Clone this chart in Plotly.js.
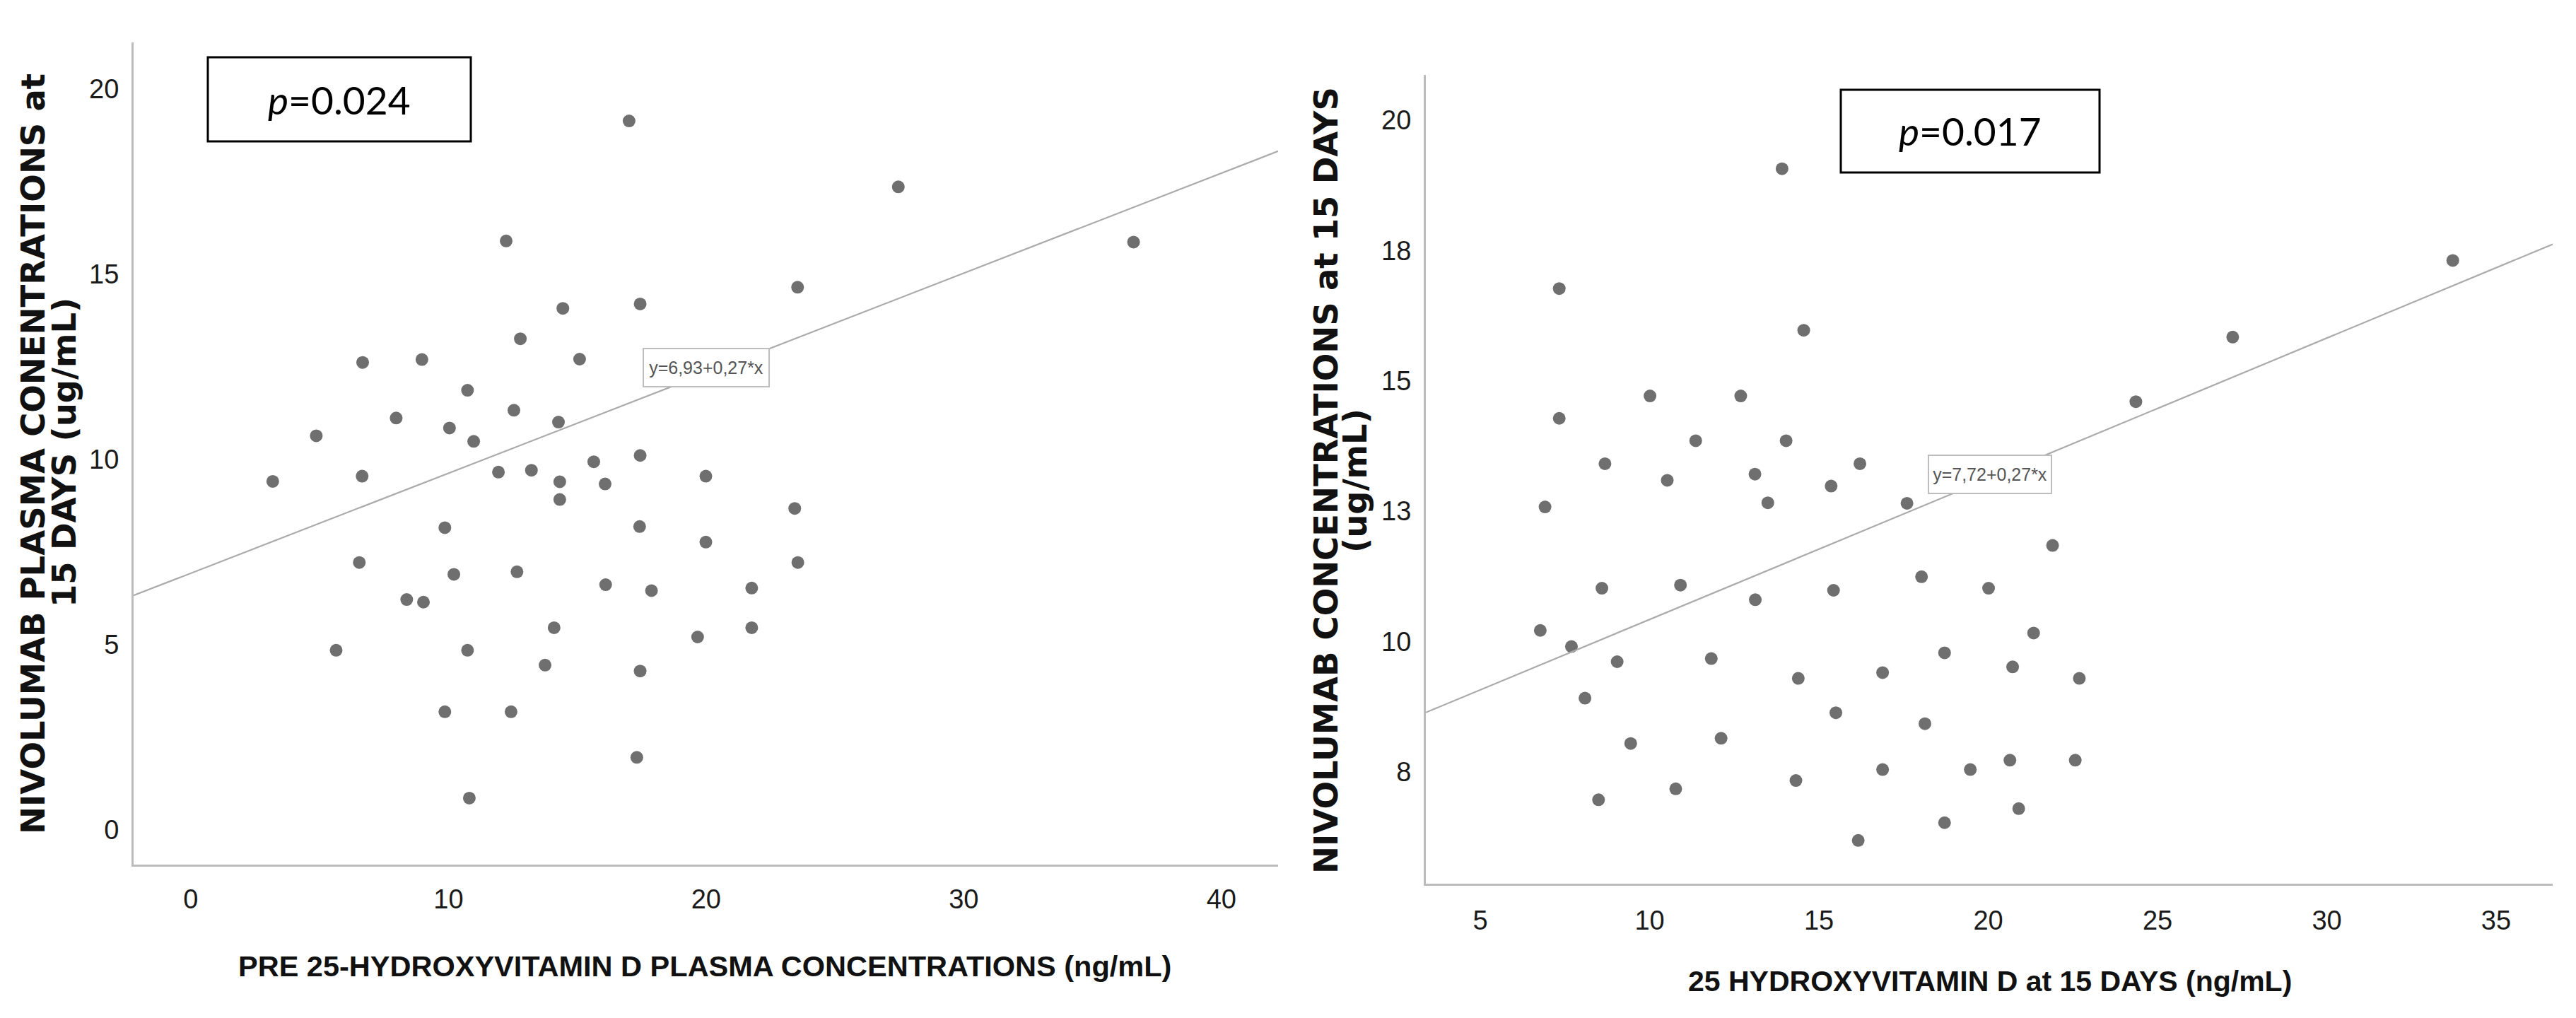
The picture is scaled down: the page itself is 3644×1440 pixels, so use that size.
<!DOCTYPE html>
<html>
<head>
<meta charset="utf-8">
<script src="https://cdn.plot.ly/plotly-3.0.1.min.js"></script>
<style>
  html, body { margin: 0; padding: 0; background: #ffffff; }
  #chart { width: 3644px; height: 1440px; }
</style>
</head>
<body>
<div id="chart"></div>
<script>
// ---------- Data: left panel (pre 25-OH vitamin D vs nivolumab at 15 days) ----------
const leftX = [3.18, 4.87, 5.64, 6.67, 6.65, 6.54, 7.97, 8.38, 8.97, 9.03, 9.86, 10.04, 9.86,
  10.21, 10.74, 10.74, 10.98, 10.81, 11.94, 12.24, 12.43, 12.54, 12.66, 12.79, 13.22, 13.75,
  14.10, 14.27, 14.32, 14.32, 14.44, 15.09, 15.64, 16.08, 16.10, 17.01, 17.44, 17.44, 17.42,
  17.44, 17.31, 17.88, 19.67, 19.99, 19.99, 21.77, 21.77, 23.44, 23.55, 23.56, 27.46, 36.59];
const leftY = [9.41, 10.64, 4.85, 12.62, 9.55, 7.22, 11.12, 6.22, 12.70, 6.15, 8.16, 10.85, 3.19,
  6.90, 11.87, 4.85, 10.49, 0.86, 9.66, 15.90, 3.19, 11.33, 6.97, 13.26, 9.71, 4.45,
  5.46, 11.01, 9.40, 8.92, 14.08, 12.71, 9.94, 9.34, 6.62, 19.14, 14.20, 10.11, 8.19,
  4.29, 1.96, 6.46, 5.21, 9.55, 7.77, 6.53, 5.46, 8.68, 14.65, 7.22, 17.36, 15.87];

// ---------- Data: right panel (25-OH vitamin D at 15 days vs nivolumab at 15 days) ----------
const rightX = [6.77, 6.91, 7.33, 7.33, 7.69, 8.09, 8.49, 8.59, 8.68, 9.04, 9.44, 10.01, 10.52,
  10.77, 10.91, 11.36, 11.82, 12.11, 12.69, 13.11, 13.12, 13.49, 13.91, 14.03, 14.32, 14.39,
  14.55, 15.36, 15.43, 15.50, 16.16, 16.21, 16.88, 16.88, 17.60, 18.03, 18.13, 18.71, 18.71,
  19.47, 20.01, 20.64, 20.72, 20.90, 21.34, 21.90, 22.57, 22.69, 24.36, 27.22, 33.72];
const rightY = [10.21, 12.58, 16.77, 14.28, 9.90, 8.91, 6.96, 11.02, 13.41, 9.61, 8.04, 14.71, 13.09,
  7.17, 11.08, 13.85, 9.67, 8.14, 14.71, 13.21, 10.80, 12.66, 19.07, 13.85, 7.33, 9.29,
  15.97, 12.98, 10.98, 8.63, 6.18, 13.41, 7.54, 9.40, 12.65, 11.24, 8.42, 9.78, 6.52,
  7.54, 11.02, 7.72, 9.51, 6.79, 10.16, 11.84, 7.72, 9.29, 14.60, 15.84, 17.31];

// ---------- Fit lines (coefficients printed on the chart) ----------
const leftFit = [6.93, 0.27];   // intercept, slope
const rightFit = [7.72, 0.27];

// ---------- Axes ----------
const leftXRange = [-2.22, 42.2];
const leftYRange = [-0.935, 21.26];
const rightXRange = [3.39, 36.67];
const rightYRange = [5.35, 20.87];
const leftXTicks = [0, 10, 20, 30, 40];
const leftYTicks = [0, 5, 10, 15, 20];
const rightXTicks = [5, 10, 15, 20, 25, 30, 35];
const rightYTickVals = [7.5, 10, 12.5, 15, 17.5, 20];
const rightYTickText = ["8", "10", "13", "15", "18", "20"];

// ---------- Texts ----------
const leftYTitle = ["NIVOLUMAB PLASMA CONENTRATIONS at", "15 DAYS (ug/mL)"];
const rightYTitle = ["NIVOLUMAB CONCENTRATIONS at 15 DAYS", "(ug/mL)"];
const leftXTitle = "PRE 25-HYDROXYVITAMIN D PLASMA CONCENTRATIONS (ng/mL)";
const rightXTitle = "25 HYDROXYVITAMIN D at 15 DAYS (ng/mL)";
const leftP = "0.024";
const rightP = "0.017";

const W = 3644, H = 1440;
const px = v => v / W;
const py = v => 1 - v / H;

const fmt = n => n.toFixed(2).replace('.', ',');
const eqText = f => 'y=' + fmt(f[0]) + '+' + fmt(f[1]) + '*x';

const dotColor = '#6f6f6f';
const lineColor = '#ababab';
const axisColor = '#bcbcbc';
const arial = '"Liberation Sans", Arial, sans-serif';
const wideBold = '"DejaVu Sans", Arial, sans-serif';

const traces = [
  { type: 'scatter', mode: 'markers', x: leftX, y: leftY, xaxis: 'x', yaxis: 'y',
    marker: { color: dotColor, size: 18 }, hoverinfo: 'x+y', showlegend: false },
  { type: 'scatter', mode: 'lines', x: leftXRange,
    y: leftXRange.map(v => leftFit[0] + leftFit[1] * v), xaxis: 'x', yaxis: 'y',
    line: { color: lineColor, width: 2.2 }, hoverinfo: 'skip', showlegend: false },
  { type: 'scatter', mode: 'markers', x: rightX, y: rightY, xaxis: 'x2', yaxis: 'y2',
    marker: { color: dotColor, size: 18 }, hoverinfo: 'x+y', showlegend: false },
  { type: 'scatter', mode: 'lines', x: rightXRange,
    y: rightXRange.map(v => rightFit[0] + rightFit[1] * v), xaxis: 'x2', yaxis: 'y2',
    line: { color: lineColor, width: 2.2 }, hoverinfo: 'skip', showlegend: false }
];

const axisBase = {
  showgrid: false, zeroline: false, showline: true, linecolor: axisColor, linewidth: 3,
  ticks: '', tickfont: { family: arial, size: 38, color: '#1a1a1a' }, fixedrange: true
};

const layout = {
  width: W, height: H,
  margin: { l: 0, r: 0, t: 0, b: 0 },
  paper_bgcolor: '#ffffff', plot_bgcolor: '#ffffff',
  showlegend: false,
  xaxis: Object.assign({}, axisBase, {
    domain: [px(189), px(1808)], range: leftXRange, anchor: 'y',
    tickmode: 'array', tickvals: leftXTicks, ticktext: leftXTicks.map(String), ticklabelstandoff: 13
  }),
  yaxis: Object.assign({}, axisBase, {
    domain: [py(1223), py(60)], range: leftYRange, anchor: 'x',
    tickmode: 'array', tickvals: leftYTicks, ticktext: leftYTicks.map(String), ticklabelstandoff: 10
  }),
  xaxis2: Object.assign({}, axisBase, {
    domain: [px(2017), px(3611)], range: rightXRange, anchor: 'y2',
    tickmode: 'array', tickvals: rightXTicks, ticktext: rightXTicks.map(String), ticklabelstandoff: 16
  }),
  yaxis2: Object.assign({}, axisBase, {
    domain: [py(1250), py(106)], range: rightYRange, anchor: 'x2',
    tickmode: 'array', tickvals: rightYTickVals, ticktext: rightYTickText, ticklabelstandoff: 10
  }),
  shapes: [
    { type: 'rect', xref: 'paper', yref: 'paper', x0: px(294), x1: px(666), y0: py(200), y1: py(81),
      line: { color: '#000000', width: 3 }, fillcolor: 'rgba(0,0,0,0)' },
    { type: 'rect', xref: 'paper', yref: 'paper', x0: px(2604), x1: px(2970), y0: py(244), y1: py(127),
      line: { color: '#000000', width: 3 }, fillcolor: 'rgba(0,0,0,0)' }
  ],
  annotations: [
    // p-values
    { xref: 'paper', yref: 'paper', x: px(480), y: py(141), xanchor: 'center', yanchor: 'middle',
      text: '<i>p</i>=' + leftP, showarrow: false, font: { family: 'Lato, "Open Sans", sans-serif', size: 55, color: '#000' } },
    { xref: 'paper', yref: 'paper', x: px(2787), y: py(185), xanchor: 'center', yanchor: 'middle',
      text: '<i>p</i>=' + rightP, showarrow: false, font: { family: 'Lato, "Open Sans", sans-serif', size: 55, color: '#000' } },
    // regression equation labels
    { xref: 'x', yref: 'y', x: 20.0, y: 12.48, xanchor: 'center', yanchor: 'middle',
      text: eqText(leftFit), showarrow: false, bgcolor: '#ffffff', bordercolor: '#bdbdbd', borderwidth: 2,
      borderpad: 0, width: 176, height: 52, font: { family: arial, size: 25, color: '#555555' } },
    { xref: 'x2', yref: 'y2', x: 20.05, y: 13.2, xanchor: 'center', yanchor: 'middle',
      text: eqText(rightFit), showarrow: false, bgcolor: '#ffffff', bordercolor: '#bdbdbd', borderwidth: 2,
      borderpad: 0, width: 172, height: 52, font: { family: arial, size: 25, color: '#555555' } },
    // x-axis titles
    { xref: 'paper', yref: 'paper', x: px(997), y: py(1366), xanchor: 'center', yanchor: 'middle',
      text: '<b>' + leftXTitle + '</b>', showarrow: false, font: { family: arial, size: 41.5, color: '#111' } },
    { xref: 'paper', yref: 'paper', x: px(2815), y: py(1388), xanchor: 'center', yanchor: 'middle',
      text: '<b>' + rightXTitle + '</b>', showarrow: false, font: { family: arial, size: 41, color: '#111' } },
    // y-axis titles (two lines each)
    { xref: 'paper', yref: 'paper', x: px(47), y: py(642), xanchor: 'center', yanchor: 'middle', textangle: -90,
      text: '<b>' + leftYTitle[0] + '</b>', showarrow: false, font: { family: wideBold, size: 46.5, color: '#111' } },
    { xref: 'paper', yref: 'paper', x: px(91), y: py(640), xanchor: 'center', yanchor: 'middle', textangle: -90,
      text: '<b>' + leftYTitle[1] + '</b>', showarrow: false, font: { family: wideBold, size: 46.5, color: '#111' } },
    { xref: 'paper', yref: 'paper', x: px(1876), y: py(680), xanchor: 'center', yanchor: 'middle', textangle: -90,
      text: '<b>' + rightYTitle[0] + '</b>', showarrow: false, font: { family: wideBold, size: 46.5, color: '#111' } },
    { xref: 'paper', yref: 'paper', x: px(1917), y: py(680), xanchor: 'center', yanchor: 'middle', textangle: -90,
      text: '<b>' + rightYTitle[1] + '</b>', showarrow: false, font: { family: wideBold, size: 46.5, color: '#111' } }
  ]
};

Plotly.newPlot('chart', traces, layout, { displayModeBar: false, staticPlot: true });
</script>
</body>
</html>
